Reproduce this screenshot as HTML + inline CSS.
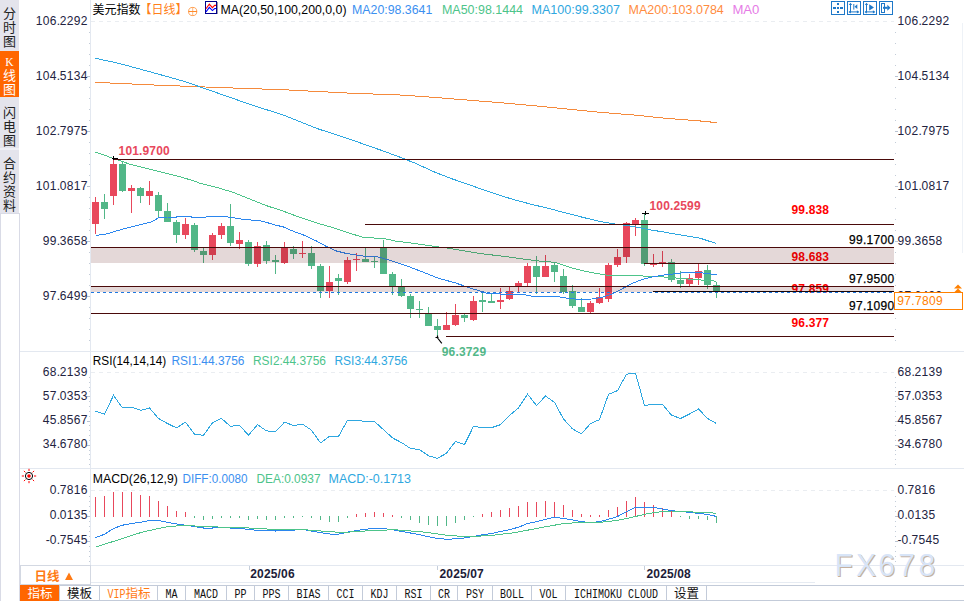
<!DOCTYPE html><html><head><meta charset="utf-8"><title>美元指数 日线</title>
<style>html,body{margin:0;padding:0;background:#fff;overflow:hidden}body{width:964px;height:601px;position:relative;font-family:"Liberation Sans","Noto Sans CJK SC",sans-serif}svg{position:absolute;left:0;top:0;display:block}text{font-family:"Liberation Sans","Noto Sans CJK SC",sans-serif}.ax{font-size:12px;fill:#23233f}.ls{letter-spacing:.33px}.b.ls{letter-spacing:.15px}.cj text{font-family:"Liberation Serif","Noto Sans CJK SC",sans-serif}.mono text{font-family:"Liberation Mono","Noto Serif CJK SC",monospace}.b{font-weight:bold}.cj text.mn{font-family:"Liberation Mono",monospace}</style></head><body>
<svg width="964" height="601" viewBox="0 0 964 601">
<rect width="964" height="601" fill="#fff"/>
<g shape-rendering="crispEdges">
<rect x="0" y="0" width="19" height="213" fill="#e4e4ec"/>
<rect x="0" y="51" width="19" height="46" fill="#ff6600"/>
<rect x="0" y="148" width="19" height="2" fill="#f0f0f6"/>
<rect x="0" y="213" width="1" height="388" fill="#d9dbe6"/>
<rect x="19" y="213" width="1" height="388" fill="#d9dbe6"/>
<rect x="0" y="213" width="20" height="1" fill="#d9dbe6"/>
<rect x="90" y="0" width="1" height="565" fill="#e3e8f0"/>
<rect x="962" y="23" width="1" height="230" fill="#eef2f7"/>
<rect x="20" y="351" width="944" height="1" fill="#e3e8f0"/>
<rect x="20" y="468" width="944" height="1" fill="#e3e8f0"/>
<rect x="20" y="565" width="944" height="1" fill="#e3e8f0"/>
<rect x="90" y="582" width="725" height="1" fill="#e6ebf2"/>
</g>
<line x1="91" y1="21.5" x2="894" y2="21.5" stroke="#eaedf1" stroke-width="1" stroke-dasharray="4 4"/>
<line x1="91" y1="372.5" x2="894" y2="372.5" stroke="#eaedf1" stroke-width="1" stroke-dasharray="4 4"/>
<line x1="91" y1="490.5" x2="894" y2="490.5" stroke="#eaedf1" stroke-width="1" stroke-dasharray="4 4"/>
<g shape-rendering="crispEdges">
<rect x="89" y="32" width="1" height="1" fill="#c3ccd8"/><rect x="895" y="32" width="1" height="1" fill="#c3ccd8"/><rect x="89" y="43" width="1" height="1" fill="#c3ccd8"/><rect x="895" y="43" width="1" height="1" fill="#c3ccd8"/><rect x="89" y="54" width="1" height="1" fill="#c3ccd8"/><rect x="895" y="54" width="1" height="1" fill="#c3ccd8"/><rect x="89" y="65" width="1" height="1" fill="#c3ccd8"/><rect x="895" y="65" width="1" height="1" fill="#c3ccd8"/><rect x="87" y="76" width="3" height="1" fill="#b9c3d2"/><rect x="895" y="76" width="3" height="1" fill="#b9c3d2"/><rect x="89" y="87" width="1" height="1" fill="#c3ccd8"/><rect x="895" y="87" width="1" height="1" fill="#c3ccd8"/><rect x="89" y="98" width="1" height="1" fill="#c3ccd8"/><rect x="895" y="98" width="1" height="1" fill="#c3ccd8"/><rect x="89" y="109" width="1" height="1" fill="#c3ccd8"/><rect x="895" y="109" width="1" height="1" fill="#c3ccd8"/><rect x="89" y="120" width="1" height="1" fill="#c3ccd8"/><rect x="895" y="120" width="1" height="1" fill="#c3ccd8"/><rect x="87" y="131" width="3" height="1" fill="#b9c3d2"/><rect x="895" y="131" width="3" height="1" fill="#b9c3d2"/><rect x="89" y="142" width="1" height="1" fill="#c3ccd8"/><rect x="895" y="142" width="1" height="1" fill="#c3ccd8"/><rect x="89" y="153" width="1" height="1" fill="#c3ccd8"/><rect x="895" y="153" width="1" height="1" fill="#c3ccd8"/><rect x="89" y="164" width="1" height="1" fill="#c3ccd8"/><rect x="895" y="164" width="1" height="1" fill="#c3ccd8"/><rect x="89" y="175" width="1" height="1" fill="#c3ccd8"/><rect x="895" y="175" width="1" height="1" fill="#c3ccd8"/><rect x="87" y="186" width="3" height="1" fill="#b9c3d2"/><rect x="895" y="186" width="3" height="1" fill="#b9c3d2"/><rect x="89" y="197" width="1" height="1" fill="#c3ccd8"/><rect x="895" y="197" width="1" height="1" fill="#c3ccd8"/><rect x="89" y="208" width="1" height="1" fill="#c3ccd8"/><rect x="895" y="208" width="1" height="1" fill="#c3ccd8"/><rect x="89" y="219" width="1" height="1" fill="#c3ccd8"/><rect x="895" y="219" width="1" height="1" fill="#c3ccd8"/><rect x="89" y="230" width="1" height="1" fill="#c3ccd8"/><rect x="895" y="230" width="1" height="1" fill="#c3ccd8"/><rect x="87" y="241" width="3" height="1" fill="#b9c3d2"/><rect x="895" y="241" width="3" height="1" fill="#b9c3d2"/><rect x="89" y="252" width="1" height="1" fill="#c3ccd8"/><rect x="895" y="252" width="1" height="1" fill="#c3ccd8"/><rect x="89" y="263" width="1" height="1" fill="#c3ccd8"/><rect x="895" y="263" width="1" height="1" fill="#c3ccd8"/><rect x="89" y="274" width="1" height="1" fill="#c3ccd8"/><rect x="895" y="274" width="1" height="1" fill="#c3ccd8"/><rect x="89" y="285" width="1" height="1" fill="#c3ccd8"/><rect x="895" y="285" width="1" height="1" fill="#c3ccd8"/><rect x="87" y="296" width="3" height="1" fill="#b9c3d2"/><rect x="895" y="296" width="3" height="1" fill="#b9c3d2"/><rect x="89" y="307" width="1" height="1" fill="#c3ccd8"/><rect x="895" y="307" width="1" height="1" fill="#c3ccd8"/><rect x="89" y="318" width="1" height="1" fill="#c3ccd8"/><rect x="895" y="318" width="1" height="1" fill="#c3ccd8"/><rect x="89" y="329" width="1" height="1" fill="#c3ccd8"/><rect x="895" y="329" width="1" height="1" fill="#c3ccd8"/><rect x="89" y="340" width="1" height="1" fill="#c3ccd8"/><rect x="895" y="340" width="1" height="1" fill="#c3ccd8"/>
<rect x="89" y="377" width="1" height="1" fill="#c3ccd8"/><rect x="895" y="377" width="1" height="1" fill="#c3ccd8"/><rect x="89" y="382" width="1" height="1" fill="#c3ccd8"/><rect x="895" y="382" width="1" height="1" fill="#c3ccd8"/><rect x="89" y="387" width="1" height="1" fill="#c3ccd8"/><rect x="895" y="387" width="1" height="1" fill="#c3ccd8"/><rect x="89" y="391" width="1" height="1" fill="#c3ccd8"/><rect x="895" y="391" width="1" height="1" fill="#c3ccd8"/><rect x="87" y="396" width="3" height="1" fill="#b9c3d2"/><rect x="895" y="396" width="3" height="1" fill="#b9c3d2"/><rect x="89" y="401" width="1" height="1" fill="#c3ccd8"/><rect x="895" y="401" width="1" height="1" fill="#c3ccd8"/><rect x="89" y="406" width="1" height="1" fill="#c3ccd8"/><rect x="895" y="406" width="1" height="1" fill="#c3ccd8"/><rect x="89" y="411" width="1" height="1" fill="#c3ccd8"/><rect x="895" y="411" width="1" height="1" fill="#c3ccd8"/><rect x="89" y="416" width="1" height="1" fill="#c3ccd8"/><rect x="895" y="416" width="1" height="1" fill="#c3ccd8"/><rect x="87" y="421" width="3" height="1" fill="#b9c3d2"/><rect x="895" y="421" width="3" height="1" fill="#b9c3d2"/><rect x="89" y="425" width="1" height="1" fill="#c3ccd8"/><rect x="895" y="425" width="1" height="1" fill="#c3ccd8"/><rect x="89" y="430" width="1" height="1" fill="#c3ccd8"/><rect x="895" y="430" width="1" height="1" fill="#c3ccd8"/><rect x="89" y="435" width="1" height="1" fill="#c3ccd8"/><rect x="895" y="435" width="1" height="1" fill="#c3ccd8"/><rect x="89" y="440" width="1" height="1" fill="#c3ccd8"/><rect x="895" y="440" width="1" height="1" fill="#c3ccd8"/><rect x="87" y="445" width="3" height="1" fill="#b9c3d2"/><rect x="895" y="445" width="3" height="1" fill="#b9c3d2"/><rect x="89" y="450" width="1" height="1" fill="#c3ccd8"/><rect x="895" y="450" width="1" height="1" fill="#c3ccd8"/><rect x="89" y="454" width="1" height="1" fill="#c3ccd8"/><rect x="895" y="454" width="1" height="1" fill="#c3ccd8"/><rect x="89" y="459" width="1" height="1" fill="#c3ccd8"/><rect x="895" y="459" width="1" height="1" fill="#c3ccd8"/><rect x="89" y="464" width="1" height="1" fill="#c3ccd8"/><rect x="895" y="464" width="1" height="1" fill="#c3ccd8"/>
<rect x="89" y="496" width="1" height="1" fill="#c3ccd8"/><rect x="895" y="496" width="1" height="1" fill="#c3ccd8"/><rect x="89" y="501" width="1" height="1" fill="#c3ccd8"/><rect x="895" y="501" width="1" height="1" fill="#c3ccd8"/><rect x="89" y="506" width="1" height="1" fill="#c3ccd8"/><rect x="895" y="506" width="1" height="1" fill="#c3ccd8"/><rect x="89" y="511" width="1" height="1" fill="#c3ccd8"/><rect x="895" y="511" width="1" height="1" fill="#c3ccd8"/><rect x="87" y="516" width="3" height="1" fill="#b9c3d2"/><rect x="895" y="516" width="3" height="1" fill="#b9c3d2"/><rect x="89" y="521" width="1" height="1" fill="#c3ccd8"/><rect x="895" y="521" width="1" height="1" fill="#c3ccd8"/><rect x="89" y="526" width="1" height="1" fill="#c3ccd8"/><rect x="895" y="526" width="1" height="1" fill="#c3ccd8"/><rect x="89" y="531" width="1" height="1" fill="#c3ccd8"/><rect x="895" y="531" width="1" height="1" fill="#c3ccd8"/><rect x="89" y="536" width="1" height="1" fill="#c3ccd8"/><rect x="895" y="536" width="1" height="1" fill="#c3ccd8"/><rect x="87" y="541" width="3" height="1" fill="#b9c3d2"/><rect x="895" y="541" width="3" height="1" fill="#b9c3d2"/><rect x="89" y="546" width="1" height="1" fill="#c3ccd8"/><rect x="895" y="546" width="1" height="1" fill="#c3ccd8"/><rect x="89" y="551" width="1" height="1" fill="#c3ccd8"/><rect x="895" y="551" width="1" height="1" fill="#c3ccd8"/><rect x="89" y="556" width="1" height="1" fill="#c3ccd8"/><rect x="895" y="556" width="1" height="1" fill="#c3ccd8"/><rect x="89" y="561" width="1" height="1" fill="#c3ccd8"/><rect x="895" y="561" width="1" height="1" fill="#c3ccd8"/>
</g>
<g shape-rendering="crispEdges">
<rect x="95" y="197" width="1" height="37" fill="#e8485c"/>
<rect x="92" y="202" width="7" height="22" fill="#e8485c"/>
<rect x="104" y="194" width="1" height="25" fill="#52b788"/>
<rect x="101" y="202" width="7" height="7" fill="#52b788"/>
<rect x="113" y="158" width="1" height="47" fill="#e8485c"/>
<rect x="110" y="164" width="7" height="32" fill="#e8485c"/>
<rect x="122" y="162" width="1" height="30" fill="#52b788"/>
<rect x="119" y="164" width="7" height="27" fill="#52b788"/>
<rect x="131" y="185" width="1" height="28" fill="#e8485c"/>
<rect x="128" y="188" width="7" height="3" fill="#e8485c"/>
<rect x="140" y="187" width="1" height="16" fill="#52b788"/>
<rect x="137" y="188" width="7" height="8" fill="#52b788"/>
<rect x="149" y="181" width="1" height="24" fill="#e8485c"/>
<rect x="146" y="191" width="7" height="5" fill="#e8485c"/>
<rect x="158" y="192" width="1" height="26" fill="#52b788"/>
<rect x="155" y="195" width="7" height="16" fill="#52b788"/>
<rect x="167" y="203" width="1" height="19" fill="#52b788"/>
<rect x="164" y="211" width="7" height="11" fill="#52b788"/>
<rect x="176" y="220" width="1" height="23" fill="#52b788"/>
<rect x="173" y="222" width="7" height="13" fill="#52b788"/>
<rect x="185" y="218" width="1" height="21" fill="#e8485c"/>
<rect x="182" y="224" width="7" height="11" fill="#e8485c"/>
<rect x="194" y="223" width="1" height="29" fill="#52b788"/>
<rect x="191" y="225" width="7" height="25" fill="#52b788"/>
<rect x="203" y="248" width="1" height="15" fill="#52b788"/>
<rect x="200" y="251" width="7" height="4" fill="#52b788"/>
<rect x="212" y="233" width="1" height="27" fill="#e8485c"/>
<rect x="209" y="235" width="7" height="20" fill="#e8485c"/>
<rect x="221" y="223" width="1" height="16" fill="#e8485c"/>
<rect x="218" y="226" width="7" height="9" fill="#e8485c"/>
<rect x="230" y="204" width="1" height="42" fill="#52b788"/>
<rect x="227" y="226" width="7" height="17" fill="#52b788"/>
<rect x="239" y="232" width="1" height="17" fill="#e8485c"/>
<rect x="236" y="240" width="7" height="4" fill="#e8485c"/>
<rect x="248" y="240" width="1" height="26" fill="#52b788"/>
<rect x="245" y="242" width="7" height="22" fill="#52b788"/>
<rect x="257" y="242" width="1" height="25" fill="#e8485c"/>
<rect x="254" y="246" width="7" height="18" fill="#e8485c"/>
<rect x="266" y="241" width="1" height="23" fill="#52b788"/>
<rect x="263" y="245" width="7" height="16" fill="#52b788"/>
<rect x="275" y="255" width="1" height="19" fill="#52b788"/>
<rect x="272" y="260" width="7" height="2" fill="#52b788"/>
<rect x="284" y="242" width="1" height="22" fill="#e8485c"/>
<rect x="281" y="247" width="7" height="16" fill="#e8485c"/>
<rect x="293" y="246" width="1" height="13" fill="#52b788"/>
<rect x="290" y="249" width="7" height="5" fill="#52b788"/>
<rect x="302" y="241" width="1" height="17" fill="#e8485c"/>
<rect x="299" y="253" width="7" height="1" fill="#e8485c"/>
<rect x="311" y="246" width="1" height="23" fill="#52b788"/>
<rect x="308" y="253" width="7" height="13" fill="#52b788"/>
<rect x="320" y="264" width="1" height="34" fill="#52b788"/>
<rect x="317" y="266" width="7" height="25" fill="#52b788"/>
<rect x="329" y="266" width="1" height="32" fill="#e8485c"/>
<rect x="326" y="282" width="7" height="9" fill="#e8485c"/>
<rect x="338" y="274" width="1" height="21" fill="#52b788"/>
<rect x="335" y="278" width="7" height="3" fill="#52b788"/>
<rect x="347" y="257" width="1" height="27" fill="#e8485c"/>
<rect x="344" y="260" width="7" height="22" fill="#e8485c"/>
<rect x="356" y="253" width="1" height="18" fill="#e8485c"/>
<rect x="353" y="259" width="7" height="1" fill="#e8485c"/>
<rect x="365" y="248" width="1" height="14" fill="#52b788"/>
<rect x="362" y="259" width="7" height="3" fill="#52b788"/>
<rect x="374" y="257" width="1" height="11" fill="#52b788"/>
<rect x="371" y="261" width="7" height="1" fill="#52b788"/>
<rect x="383" y="240" width="1" height="34" fill="#52b788"/>
<rect x="380" y="248" width="7" height="26" fill="#52b788"/>
<rect x="392" y="272" width="1" height="23" fill="#52b788"/>
<rect x="389" y="274" width="7" height="12" fill="#52b788"/>
<rect x="401" y="279" width="1" height="18" fill="#52b788"/>
<rect x="398" y="287" width="7" height="9" fill="#52b788"/>
<rect x="410" y="294" width="1" height="24" fill="#52b788"/>
<rect x="407" y="296" width="7" height="13" fill="#52b788"/>
<rect x="419" y="301" width="1" height="17" fill="#52b788"/>
<rect x="416" y="309" width="7" height="1" fill="#52b788"/>
<rect x="428" y="307" width="1" height="19" fill="#52b788"/>
<rect x="425" y="314" width="7" height="12" fill="#52b788"/>
<rect x="437" y="319" width="1" height="18" fill="#52b788"/>
<rect x="434" y="326" width="7" height="4" fill="#52b788"/>
<rect x="446" y="312" width="1" height="18" fill="#e8485c"/>
<rect x="443" y="325" width="7" height="5" fill="#e8485c"/>
<rect x="455" y="304" width="1" height="22" fill="#e8485c"/>
<rect x="452" y="315" width="7" height="10" fill="#e8485c"/>
<rect x="464" y="314" width="1" height="8" fill="#52b788"/>
<rect x="461" y="315" width="7" height="3" fill="#52b788"/>
<rect x="473" y="296" width="1" height="25" fill="#e8485c"/>
<rect x="470" y="301" width="7" height="19" fill="#e8485c"/>
<rect x="482" y="291" width="1" height="21" fill="#52b788"/>
<rect x="479" y="300" width="7" height="2" fill="#52b788"/>
<rect x="491" y="293" width="1" height="10" fill="#52b788"/>
<rect x="488" y="301" width="7" height="2" fill="#52b788"/>
<rect x="500" y="288" width="1" height="21" fill="#e8485c"/>
<rect x="497" y="300" width="7" height="2" fill="#e8485c"/>
<rect x="509" y="286" width="1" height="14" fill="#e8485c"/>
<rect x="506" y="291" width="7" height="8" fill="#e8485c"/>
<rect x="518" y="281" width="1" height="11" fill="#e8485c"/>
<rect x="515" y="283" width="7" height="4" fill="#e8485c"/>
<rect x="527" y="263" width="1" height="23" fill="#e8485c"/>
<rect x="524" y="266" width="7" height="17" fill="#e8485c"/>
<rect x="536" y="256" width="1" height="38" fill="#52b788"/>
<rect x="533" y="266" width="7" height="11" fill="#52b788"/>
<rect x="545" y="255" width="1" height="22" fill="#e8485c"/>
<rect x="542" y="266" width="7" height="11" fill="#e8485c"/>
<rect x="554" y="262" width="1" height="20" fill="#52b788"/>
<rect x="551" y="265" width="7" height="7" fill="#52b788"/>
<rect x="563" y="269" width="1" height="25" fill="#52b788"/>
<rect x="560" y="276" width="7" height="16" fill="#52b788"/>
<rect x="572" y="285" width="1" height="23" fill="#52b788"/>
<rect x="569" y="291" width="7" height="15" fill="#52b788"/>
<rect x="581" y="298" width="1" height="14" fill="#52b788"/>
<rect x="578" y="307" width="7" height="5" fill="#52b788"/>
<rect x="590" y="301" width="1" height="12" fill="#e8485c"/>
<rect x="587" y="303" width="7" height="9" fill="#e8485c"/>
<rect x="599" y="288" width="1" height="16" fill="#e8485c"/>
<rect x="596" y="297" width="7" height="6" fill="#e8485c"/>
<rect x="608" y="263" width="1" height="39" fill="#e8485c"/>
<rect x="605" y="265" width="7" height="34" fill="#e8485c"/>
<rect x="617" y="249" width="1" height="18" fill="#e8485c"/>
<rect x="614" y="257" width="7" height="8" fill="#e8485c"/>
<rect x="626" y="222" width="1" height="41" fill="#e8485c"/>
<rect x="623" y="223" width="7" height="34" fill="#e8485c"/>
<rect x="635" y="218" width="1" height="18" fill="#e8485c"/>
<rect x="632" y="220" width="7" height="5" fill="#e8485c"/>
<rect x="644" y="213" width="1" height="53" fill="#52b788"/>
<rect x="641" y="220" width="7" height="44" fill="#52b788"/>
<rect x="653" y="254" width="1" height="13" fill="#e8485c"/>
<rect x="650" y="264" width="7" height="1" fill="#e8485c"/>
<rect x="662" y="251" width="1" height="16" fill="#e8485c"/>
<rect x="659" y="262" width="7" height="1" fill="#e8485c"/>
<rect x="671" y="259" width="1" height="23" fill="#52b788"/>
<rect x="668" y="262" width="7" height="18" fill="#52b788"/>
<rect x="680" y="271" width="1" height="17" fill="#52b788"/>
<rect x="677" y="280" width="7" height="4" fill="#52b788"/>
<rect x="689" y="274" width="1" height="12" fill="#e8485c"/>
<rect x="686" y="278" width="7" height="6" fill="#e8485c"/>
<rect x="698" y="264" width="1" height="21" fill="#e8485c"/>
<rect x="695" y="271" width="7" height="7" fill="#e8485c"/>
<rect x="707" y="265" width="1" height="24" fill="#52b788"/>
<rect x="704" y="270" width="7" height="15" fill="#52b788"/>
<rect x="716" y="282" width="1" height="16" fill="#52b788"/>
<rect x="713" y="285" width="7" height="7" fill="#52b788"/>
</g>
<g fill="none" stroke-width="1" stroke-linejoin="round" shape-rendering="crispEdges">
<polyline stroke="#f58a3c" points="95.0,82.3 151.5,84.9 218.0,87.5 284.6,89.8 351.1,93.2 400.0,95.0 433.3,97.3 466.5,100.0 499.8,102.6 533.0,105.6 566.3,108.9 599.6,112.3 632.9,114.9 666.1,118.3 699.4,120.9 716.5,122.6"/>
<polyline stroke="#2ea7e0" points="95.0,58.2 118.3,63.2 151.5,72.2 184.8,81.5 218.0,93.2 251.3,104.8 284.6,115.5 317.9,128.8 351.1,139.7 384.4,151.4 400.0,157.2 416.6,163.8 433.3,171.5 449.9,178.1 466.5,183.8 483.2,189.8 499.8,195.4 516.4,200.4 533.0,204.7 549.7,208.7 566.3,213.1 583.0,217.4 599.6,221.4 612.9,223.7 632.9,226.4 649.5,229.7 666.1,232.4 682.8,235.4 699.4,238.0 708.4,241.0 716.5,243.4"/>
<polyline stroke="#4dc48a" points="95.5,152.0 113.0,158.3 129.6,164.1 146.2,168.3 162.8,172.5 179.5,176.6 196.1,181.6 200.0,183.3 216.6,187.4 233.3,192.4 249.9,199.1 266.5,205.7 283.2,211.1 299.8,217.4 316.4,222.9 333.1,227.7 349.7,233.2 363.6,237.5 383.5,238.5 396.8,241.3 413.5,243.3 430.1,245.8 446.7,248.0 463.4,250.8 482.0,253.8 502.0,256.1 524.6,259.2 536.4,260.8 555.2,262.4 572.5,268.3 590.5,272.4 608.4,275.4 626.4,275.2 640.4,275.7 650.7,276.8 661.1,276.5 666.3,277.5 675.6,278.0 686.0,278.8 694.3,279.6 702.6,280.1 712.0,280.9 716.5,281.1"/>
<polyline stroke="#2b86ee" points="95.5,235.3 104.6,234.5 121.3,229.5 137.9,225.3 151.2,221.9 158.5,217.9 167.5,217.0 176.5,217.0 185.5,216.2 194.4,217.4 203.4,217.4 208.3,216.6 225.0,216.6 233.3,217.7 246.6,219.9 258.2,220.2 266.5,222.4 274.8,224.9 283.2,226.9 293.1,231.2 303.1,234.8 316.4,241.0 326.4,246.5 336.4,251.0 346.4,253.5 360.0,255.6 365.6,256.3 376.9,256.6 388.5,259.9 405.2,265.3 421.8,271.6 438.4,278.2 455.0,282.8 471.7,288.5 482.0,291.5 488.5,293.8 505.1,294.1 522.0,294.2 532.0,296.2 556.9,296.5 568.5,298.5 581.5,299.5 591.8,299.0 601.8,297.4 611.8,294.0 626.4,286.6 630.0,284.4 640.4,280.1 650.7,277.2 661.1,275.4 675.6,273.7 686.0,272.3 694.3,272.1 702.6,273.0 712.0,274.1 716.5,274.6"/>
</g>
<g class="b ls" font-size="12" fill="#ff0000">
<text x="791.5" y="213.7">99.838</text>
<text x="791.5" y="260.5">98.683</text>
<text x="791.5" y="293.4">97.859</text>
<text x="791.5" y="326.7">96.377</text>
</g>
<g shape-rendering="crispEdges">
<rect x="91" y="248" width="803" height="15" fill="rgba(90,10,10,0.16)"/>
<rect x="91" y="287" width="803" height="5" fill="rgba(90,10,10,0.16)"/>
<rect x="113" y="159" width="781" height="1" fill="#4a0a0a"/>
<rect x="365" y="224" width="529" height="1" fill="#4a0a0a"/>
<rect x="91" y="247" width="803" height="1" fill="#4a0a0a"/>
<rect x="644" y="263" width="250" height="1" fill="#4a0a0a"/>
<rect x="91" y="286" width="803" height="1" fill="#4a0a0a"/>
<rect x="653" y="291" width="241" height="1" fill="#1a0505"/>
<rect x="91" y="313" width="803" height="1" fill="#4a0a0a"/>
<rect x="446" y="336" width="448" height="1" fill="#4a0a0a"/>
</g>
<line x1="91" y1="292.5" x2="894" y2="292.5" stroke="#1e78e0" stroke-width="1" stroke-dasharray="3 3"/>
<g stroke="#000" stroke-width="1" shape-rendering="crispEdges"><path d="M113.5 156v4M112 158.5h6M645.5 211v4M642 213.5h7"/></g>
<path d="M435.5 337.5h3M437.5 335.5v3M438 338.5l3.8 4.8" stroke="#000" stroke-width="1.2" fill="none"/>
<text class="b ls" font-size="12" fill="#e8485c" x="118.6" y="155">101.9700</text>
<text class="b ls" font-size="12" fill="#e8485c" x="649.5" y="210">100.2599</text>
<text class="b ls" font-size="12" fill="#52b788" x="441.8" y="356">96.3729</text>
<g class="ls" font-size="12" fill="#000" stroke="#000" stroke-width=".25" text-anchor="end">
<text x="894.6" y="243.6">99.1700</text>
<text x="894.6" y="282.5">97.9500</text>
<text x="894.6" y="309.7">97.1090</text>
</g>
<g class="ax">
<text x="35.7 42.7 49.7 56.7 59.7 66.7 73.7 80.7" y="25">106.2292</text>
<text x="897.6 904.6 911.6 918.6 921.6 928.6 935.6 942.6" y="25">106.2292</text>
<text x="35.7 42.7 49.7 56.7 59.7 66.7 73.7 80.7" y="80">104.5134</text>
<text x="897.6 904.6 911.6 918.6 921.6 928.6 935.6 942.6" y="80">104.5134</text>
<text x="35.7 42.7 49.7 56.7 59.7 66.7 73.7 80.7" y="135">102.7975</text>
<text x="897.6 904.6 911.6 918.6 921.6 928.6 935.6 942.6" y="135">102.7975</text>
<text x="35.7 42.7 49.7 56.7 59.7 66.7 73.7 80.7" y="190">101.0817</text>
<text x="897.6 904.6 911.6 918.6 921.6 928.6 935.6 942.6" y="190">101.0817</text>
<text x="42.7 49.7 56.7 59.7 66.7 73.7 80.7" y="245">99.3658</text>
<text x="897.6 904.6 911.6 914.6 921.6 928.6 935.6" y="245">99.3658</text>
<text x="42.7 49.7 56.7 59.7 66.7 73.7 80.7" y="300">97.6499</text>
<text x="897.6 904.6 911.6 914.6 921.6 928.6 935.6" y="300">97.6499</text>
<text x="42.7 49.7 56.7 59.7 66.7 73.7 80.7" y="376">68.2139</text>
<text x="897.6 904.6 911.6 914.6 921.6 928.6 935.6" y="376">68.2139</text>
<text x="42.7 49.7 56.7 59.7 66.7 73.7 80.7" y="400">57.0353</text>
<text x="897.6 904.6 911.6 914.6 921.6 928.6 935.6" y="400">57.0353</text>
<text x="42.7 49.7 56.7 59.7 66.7 73.7 80.7" y="424">45.8567</text>
<text x="897.6 904.6 911.6 914.6 921.6 928.6 935.6" y="424">45.8567</text>
<text x="42.7 49.7 56.7 59.7 66.7 73.7 80.7" y="448">34.6780</text>
<text x="897.6 904.6 911.6 914.6 921.6 928.6 935.6" y="448">34.6780</text>
<text x="49.7 56.7 59.7 66.7 73.7 80.7" y="494">0.7816</text>
<text x="897.6 904.6 907.6 914.6 921.6 928.6" y="494">0.7816</text>
<text x="49.7 56.7 59.7 66.7 73.7 80.7" y="519">0.0135</text>
<text x="897.6 904.6 907.6 914.6 921.6 928.6" y="519">0.0135</text>
<text x="45.7 49.7 56.7 59.7 66.7 73.7 80.7" y="544">-0.7545</text>
<text x="897.6 901.6 908.6 911.6 918.6 925.6 932.6" y="544">-0.7545</text>
</g>
<g shape-rendering="crispEdges"><rect x="894.5" y="292.5" width="68" height="17" fill="#fff" stroke="#ff8000" stroke-width="1"/></g>
<text class="ls" x="897.3" y="305" font-size="12" fill="#ff8000">97.7809</text>
<path d="M954 288.5l4-4 4 4zM954 292.5l4-4 4 4z" fill="#ff8000"/>
<polyline fill="none" stroke="#2ea7e0" stroke-width="1" shape-rendering="crispEdges" points="95.5,411.0 104.5,414.2 113.5,395.3 122.5,408.0 131.5,407.3 140.5,410.3 149.5,408.0 158.5,418.5 167.5,423.5 176.5,427.9 185.5,422.2 194.5,434.2 203.5,435.4 212.5,422.7 221.5,418.5 230.5,426.4 239.5,425.2 248.5,435.2 257.5,424.7 266.5,430.9 275.5,431.4 284.5,422.2 293.5,425.5 302.5,424.2 311.5,430.2 320.5,442.9 329.5,436.4 338.5,436.4 347.5,420.2 356.5,420.2 365.5,421.5 374.5,421.5 383.5,429.7 392.5,437.9 401.5,442.6 410.5,448.4 419.5,449.6 428.5,455.8 437.5,458.3 446.5,453.3 455.5,441.4 464.5,444.6 473.5,426.4 482.5,427.7 491.5,427.7 500.5,424.7 509.5,415.5 518.5,408.0 527.5,394.1 536.5,405.5 545.5,396.1 554.5,402.3 563.5,419.0 572.5,428.9 581.5,433.9 590.5,423.5 599.5,419.7 608.5,394.3 617.5,390.6 626.5,374.2 635.5,373.2 644.5,405.5 653.5,404.3 662.5,404.3 671.5,415.2 680.5,418.5 689.5,414.0 698.5,409.0 707.5,418.5 716.5,423.5"/>
<g shape-rendering="crispEdges">
<rect x="95" y="497" width="1" height="20" fill="#e8485c"/>
<rect x="104" y="496" width="1" height="21" fill="#e8485c"/>
<rect x="113" y="492" width="1" height="25" fill="#e8485c"/>
<rect x="122" y="492" width="1" height="25" fill="#e8485c"/>
<rect x="131" y="492" width="1" height="25" fill="#e8485c"/>
<rect x="140" y="495" width="1" height="22" fill="#e8485c"/>
<rect x="149" y="496" width="1" height="21" fill="#e8485c"/>
<rect x="158" y="501" width="1" height="16" fill="#e8485c"/>
<rect x="167" y="506" width="1" height="11" fill="#e8485c"/>
<rect x="176" y="511" width="1" height="6" fill="#e8485c"/>
<rect x="185" y="512" width="1" height="5" fill="#e8485c"/>
<rect x="194" y="516" width="1" height="2" fill="#52b788"/>
<rect x="203" y="516" width="1" height="4" fill="#52b788"/>
<rect x="212" y="516" width="1" height="3" fill="#52b788"/>
<rect x="221" y="516" width="1" height="2" fill="#52b788"/>
<rect x="230" y="516" width="1" height="2" fill="#52b788"/>
<rect x="239" y="516" width="1" height="2" fill="#52b788"/>
<rect x="248" y="516" width="1" height="4" fill="#52b788"/>
<rect x="257" y="516" width="1" height="3" fill="#52b788"/>
<rect x="266" y="516" width="1" height="4" fill="#52b788"/>
<rect x="275" y="516" width="1" height="4" fill="#52b788"/>
<rect x="284" y="516" width="1" height="2" fill="#52b788"/>
<rect x="293" y="516" width="1" height="2" fill="#52b788"/>
<rect x="302" y="516" width="1" height="1" fill="#52b788"/>
<rect x="311" y="516" width="1" height="2" fill="#52b788"/>
<rect x="320" y="516" width="1" height="4" fill="#52b788"/>
<rect x="329" y="516" width="1" height="6" fill="#52b788"/>
<rect x="338" y="516" width="1" height="6" fill="#52b788"/>
<rect x="347" y="516" width="1" height="2" fill="#52b788"/>
<rect x="356" y="514" width="1" height="3" fill="#e8485c"/>
<rect x="365" y="513" width="1" height="4" fill="#e8485c"/>
<rect x="374" y="512" width="1" height="5" fill="#e8485c"/>
<rect x="383" y="513" width="1" height="4" fill="#e8485c"/>
<rect x="392" y="515" width="1" height="2" fill="#e8485c"/>
<rect x="401" y="516" width="1" height="2" fill="#52b788"/>
<rect x="410" y="516" width="1" height="4" fill="#52b788"/>
<rect x="419" y="516" width="1" height="7" fill="#52b788"/>
<rect x="428" y="516" width="1" height="9" fill="#52b788"/>
<rect x="437" y="516" width="1" height="10" fill="#52b788"/>
<rect x="446" y="516" width="1" height="10" fill="#52b788"/>
<rect x="455" y="516" width="1" height="7" fill="#52b788"/>
<rect x="464" y="516" width="1" height="4" fill="#52b788"/>
<rect x="473" y="516" width="1" height="1" fill="#52b788"/>
<rect x="482" y="514" width="1" height="3" fill="#e8485c"/>
<rect x="491" y="512" width="1" height="5" fill="#e8485c"/>
<rect x="500" y="510" width="1" height="7" fill="#e8485c"/>
<rect x="509" y="508" width="1" height="9" fill="#e8485c"/>
<rect x="518" y="506" width="1" height="11" fill="#e8485c"/>
<rect x="527" y="502" width="1" height="15" fill="#e8485c"/>
<rect x="536" y="502" width="1" height="15" fill="#e8485c"/>
<rect x="545" y="501" width="1" height="16" fill="#e8485c"/>
<rect x="554" y="502" width="1" height="15" fill="#e8485c"/>
<rect x="563" y="505" width="1" height="12" fill="#e8485c"/>
<rect x="572" y="510" width="1" height="7" fill="#e8485c"/>
<rect x="581" y="514" width="1" height="3" fill="#e8485c"/>
<rect x="590" y="515" width="1" height="2" fill="#e8485c"/>
<rect x="599" y="515" width="1" height="2" fill="#e8485c"/>
<rect x="608" y="510" width="1" height="7" fill="#e8485c"/>
<rect x="617" y="507" width="1" height="10" fill="#e8485c"/>
<rect x="626" y="501" width="1" height="16" fill="#e8485c"/>
<rect x="635" y="497" width="1" height="20" fill="#e8485c"/>
<rect x="644" y="502" width="1" height="15" fill="#e8485c"/>
<rect x="653" y="505" width="1" height="12" fill="#e8485c"/>
<rect x="662" y="508" width="1" height="9" fill="#e8485c"/>
<rect x="671" y="511" width="1" height="6" fill="#e8485c"/>
<rect x="680" y="516" width="1" height="1" fill="#52b788"/>
<rect x="689" y="516" width="1" height="3" fill="#52b788"/>
<rect x="698" y="516" width="1" height="3" fill="#52b788"/>
<rect x="707" y="516" width="1" height="4" fill="#52b788"/>
<rect x="716" y="516" width="1" height="7" fill="#52b788"/>
</g>
<polyline fill="none" stroke="#2b86ee" stroke-width="1" shape-rendering="crispEdges" points="95.5,537.7 104.5,534.2 113.5,528.5 122.5,525.2 131.5,523.5 140.5,522.3 149.5,520.5 158.5,520.5 167.5,522.3 176.5,524.0 185.5,525.2 194.5,526.5 203.5,528.0 212.5,528.0 221.5,527.2 230.5,528.0 239.5,528.0 248.5,529.7 257.5,530.2 266.5,530.2 275.5,531.0 284.5,530.2 293.5,530.2 302.5,529.2 311.5,531.0 320.5,532.7 329.5,534.0 338.5,534.2 347.5,532.2 356.5,530.5 365.5,529.2 374.5,528.5 383.5,528.5 392.5,529.7 401.5,531.5 410.5,533.0 419.5,534.7 428.5,536.7 437.5,538.4 446.5,539.2 455.5,538.9 464.5,538.0 473.5,536.4 482.5,534.7 491.5,533.5 500.5,531.5 509.5,529.7 518.5,527.2 527.5,523.5 536.5,521.8 545.5,519.3 554.5,517.3 563.5,518.5 572.5,519.8 581.5,521.8 590.5,522.3 599.5,521.8 608.5,519.3 617.5,516.5 626.5,511.6 635.5,507.3 644.5,507.3 653.5,507.3 662.5,509.1 671.5,510.6 680.5,511.6 689.5,512.3 698.5,513.5 707.5,514.3 716.5,516.5"/>
<polyline fill="none" stroke="#4dc48a" stroke-width="1" shape-rendering="crispEdges" points="95.5,547.2 104.5,544.2 113.5,541.4 122.5,538.4 131.5,535.5 140.5,532.7 149.5,530.5 158.5,528.5 167.5,526.7 176.5,526.0 185.5,525.5 194.5,526.0 203.5,526.5 212.5,526.7 221.5,527.2 230.5,527.2 239.5,527.2 248.5,528.0 257.5,528.5 266.5,529.0 275.5,529.2 284.5,529.2 293.5,529.2 302.5,529.2 311.5,530.5 320.5,531.0 329.5,531.7 338.5,532.2 347.5,532.2 356.5,531.5 365.5,531.0 374.5,530.2 383.5,530.2 392.5,529.7 401.5,530.2 410.5,531.0 419.5,531.5 428.5,532.7 437.5,534.0 446.5,535.2 455.5,535.9 464.5,536.4 473.5,536.4 482.5,535.9 491.5,535.5 500.5,534.2 509.5,533.5 518.5,531.9 527.5,530.2 536.5,528.5 545.5,526.7 554.5,525.2 563.5,523.5 572.5,523.0 581.5,522.3 590.5,522.3 599.5,522.3 608.5,521.5 617.5,520.3 626.5,518.5 635.5,516.5 644.5,514.3 653.5,512.8 662.5,511.6 671.5,511.0 680.5,511.0 689.5,511.8 698.5,512.3 707.5,512.3 716.5,513.5"/>
<g transform="translate(29,476)"><circle r="3.6" fill="#fff" stroke="#000" stroke-width="1"/><circle r="1.8" fill="#ff0000"/><g stroke="#ff0000" stroke-width="1"><path d="M0-5v-2.2M0 5v2.2M-5 0h-2.2M5 0h2.2M3.6-3.6l1.5-1.5M-3.6-3.6l-1.5-1.5M3.6 3.6l1.5 1.5M-3.6 3.6l-1.5 1.5"/></g></g>
<g font-size="12.3">
<text x="92.5" y="14" font-size="12" fill="#000" style="font-family:'Liberation Sans','Noto Sans CJK SC',sans-serif">美元指数</text>
<text x="139.5" y="14" font-size="12" fill="#ff7f1a" style="font-family:'Liberation Sans','Noto Sans CJK SC',sans-serif">【日线】</text>
<g stroke="#ff8a2a" fill="none"><circle cx="192.7" cy="11.5" r="4.1" stroke-width="0.8"/><path d="M188.4 11.5h8.6" stroke-width="1"/><path d="M192.7 7.4v8.2" stroke-width="0.6"/></g>
<g shape-rendering="crispEdges"><rect x="217" y="2" width="1" height="12" fill="#9a9aa8"/><rect x="205.5" y="1.5" width="11" height="12" fill="#fff" stroke="#00008b" stroke-width="1"/><rect x="206" y="13" width="11" height="1" fill="#00008b"/></g>
<path d="M206 8.7l3.3-4.6 3.1 3.6 2.3-2.3h1.3" stroke="#ff0000" stroke-width="1.1" fill="none"/><path d="M206 11.8l3.3-4.5 3.1 3.3 2.3-2.1h1.3" stroke="#0000ff" stroke-width="1.1" fill="none"/>
<text x="220.5" y="14" fill="#000" textLength="126" lengthAdjust="spacingAndGlyphs">MA(20,50,100,200,0,0)</text>
<text x="352" y="14" fill="#3b8ff0" textLength="80.3" lengthAdjust="spacingAndGlyphs">MA20:98.3641</text>
<text x="442" y="14" fill="#4dc48a" textLength="81" lengthAdjust="spacingAndGlyphs">MA50:98.1444</text>
<text x="531.5" y="14" fill="#2ea7e0" textLength="88.5" lengthAdjust="spacingAndGlyphs">MA100:99.3307</text>
<text x="628.6" y="14" fill="#ff8c40" textLength="95.2" lengthAdjust="spacingAndGlyphs">MA200:103.0784</text>
<text x="732.4" y="14" fill="#e67be6" textLength="27" lengthAdjust="spacingAndGlyphs">MA0</text>
<text x="92.8" y="364.7" fill="#000" textLength="73.5" lengthAdjust="spacingAndGlyphs">RSI(14,14,14)</text>
<text x="171.5" y="364.7" fill="#3b8ff0" textLength="73" lengthAdjust="spacingAndGlyphs">RSI1:44.3756</text>
<text x="253" y="364.7" fill="#4dc48a" textLength="73" lengthAdjust="spacingAndGlyphs">RSI2:44.3756</text>
<text x="334.5" y="364.7" fill="#2ea7e0" textLength="73" lengthAdjust="spacingAndGlyphs">RSI3:44.3756</text>
<text x="92.8" y="482.7" fill="#000" textLength="85" lengthAdjust="spacingAndGlyphs">MACD(26,12,9)</text>
<text x="182.5" y="482.7" fill="#3b8ff0" textLength="65" lengthAdjust="spacingAndGlyphs">DIFF:0.0080</text>
<text x="256.5" y="482.7" fill="#4dc48a" textLength="64" lengthAdjust="spacingAndGlyphs">DEA:0.0937</text>
<text x="328.5" y="482.7" fill="#2ea7e0" textLength="82.5" lengthAdjust="spacingAndGlyphs">MACD:-0.1713</text>
</g>
<g shape-rendering="crispEdges" fill="none" stroke="#1e78c8" stroke-width="1">
<rect x="831.5" y="1.5" width="13" height="13"/>
<rect x="847.5" y="1.5" width="13" height="13"/>
<rect x="863.5" y="1.5" width="13" height="13"/>
<rect x="879.5" y="1.5" width="13" height="13"/>
</g>
<g fill="#1e78c8" shape-rendering="crispEdges">
<rect x="837" y="3" width="2" height="2"/><rect x="837" y="7" width="2" height="2"/><rect x="837" y="11" width="2" height="2"/><rect x="833" y="7" width="3" height="2"/><rect x="840" y="7" width="3" height="2"/>
</g>
<g fill="#1e78c8">
<rect x="850.0" y="4" width="1" height="8.6"/>
<rect x="849.5" y="11.4" width="9" height="1"/>
<path d="M850.5 2.8l-1.7 2.3h3.4zM859.3 11.9l-2.4-1.6v3.2zM848.5 11.9l2.2-1.5v3z"/>
<rect x="866.0" y="4" width="1" height="8.6"/>
<rect x="865.5" y="11.4" width="9" height="1"/>
<path d="M866.5 2.8l-1.7 2.3h3.4zM875.3 11.9l-2.4-1.6v3.2zM864.5 11.9l2.2-1.5v3z"/>
<rect x="853.3" y="4" width="1" height="5.6"/><path d="M854.5 6.7L857.3 4.3V9.1z"/>
<path d="M869.2 4.2L874 7.4L869.2 10.6z"/>
<rect x="881.5" y="3.5" width="3" height="9" fill="#fff" stroke="#1e78c8" stroke-width="1"/>
<rect x="883" y="6.8" width="4.6" height="2"/><path d="M887.3 4.8L890.5 7.8L887.3 10.8z"/>
</g>
<g class="cj" font-size="13" text-anchor="middle" fill="#222">
<text x="9.5" y="18">分</text>
<text x="9.5" y="32">时</text>
<text x="9.5" y="46">图</text>
<g fill="#fff">
<text x="9.5" y="65.5" font-size="11.5">K</text>
<text x="9.5" y="80">线</text>
<text x="9.5" y="94">图</text>
</g>
<text x="9.5" y="117">闪</text>
<text x="9.5" y="131">电</text>
<text x="9.5" y="145">图</text>
<text x="9.5" y="168">合</text>
<text x="9.5" y="182">约</text>
<text x="9.5" y="196">资</text>
<text x="9.5" y="210">料</text>
</g>
<g shape-rendering="crispEdges" fill="#c5cedb"><rect x="249" y="566" width="1" height="4"/><rect x="437" y="566" width="1" height="4"/><rect x="644" y="566" width="1" height="4"/></g>
<g class="b ls" font-size="12" fill="#1c1c38">
<text x="250.3" y="578">2025/06</text><text x="439.5" y="578">2025/07</text><text x="646.5" y="578">2025/08</text>
</g>
<text transform="translate(1,576.6) scale(1,1.045)" x="834.5 855.9 878.2 898.2 918.5" y="0" font-size="30" fill="#c4b0a0">FX678</text>
<text transform="translate(0,575.6) scale(1,1.045)" x="834.5 855.9 878.2 898.2 918.5" y="0" font-size="30" fill="#d8e5f8">FX678</text>
<g shape-rendering="crispEdges">
<rect x="20.5" y="565.5" width="70" height="19" fill="#fff" stroke="#d3d8e2"/>
<rect x="20" y="585" width="944" height="1" fill="#c3cbd9"/>
<rect x="20" y="600" width="944" height="1" fill="#c3cbd9"/>
<rect x="20" y="585" width="39" height="16" fill="#ff6600"/>
<rect x="59" y="586" width="1" height="14" fill="#c3cbd9"/>
<rect x="99" y="586" width="1" height="14" fill="#c3cbd9"/>
<rect x="157" y="586" width="1" height="14" fill="#c3cbd9"/>
<rect x="185" y="586" width="1" height="14" fill="#c3cbd9"/>
<rect x="226" y="586" width="1" height="14" fill="#c3cbd9"/>
<rect x="254" y="586" width="1" height="14" fill="#c3cbd9"/>
<rect x="288" y="586" width="1" height="14" fill="#c3cbd9"/>
<rect x="328" y="586" width="1" height="14" fill="#c3cbd9"/>
<rect x="362" y="586" width="1" height="14" fill="#c3cbd9"/>
<rect x="396" y="586" width="1" height="14" fill="#c3cbd9"/>
<rect x="430" y="586" width="1" height="14" fill="#c3cbd9"/>
<rect x="457" y="586" width="1" height="14" fill="#c3cbd9"/>
<rect x="492" y="586" width="1" height="14" fill="#c3cbd9"/>
<rect x="531" y="586" width="1" height="14" fill="#c3cbd9"/>
<rect x="565" y="586" width="1" height="14" fill="#c3cbd9"/>
<rect x="666" y="586" width="1" height="14" fill="#c3cbd9"/>
<rect x="706" y="586" width="1" height="14" fill="#c3cbd9"/>
</g>
<text class="b" x="34.5" y="580.5" font-size="12.5" fill="#ff7a14" style="font-family:'Liberation Sans','Noto Sans CJK SC',sans-serif">日线</text>
<path d="M65 580l4-7.5 4 7.5z" fill="#ff7a14"/>
<g class="cj" font-size="12.5">
<text x="40.0" y="597.6" fill="#fff" text-anchor="middle">指标</text>
<text x="79.5" y="597.6" fill="#111" text-anchor="middle">模板</text>
<text class="mn" x="107.5" y="597.6" fill="#ff7a14" textLength="18" lengthAdjust="spacingAndGlyphs">VIP</text>
<text x="125.5" y="597.6" fill="#ff7a14">指标</text>
<text class="mn" x="165.5" y="597.6" fill="#111" textLength="12" lengthAdjust="spacingAndGlyphs">MA</text>
<text class="mn" x="194.0" y="597.6" fill="#111" textLength="24" lengthAdjust="spacingAndGlyphs">MACD</text>
<text class="mn" x="234.5" y="597.6" fill="#111" textLength="12" lengthAdjust="spacingAndGlyphs">PP</text>
<text class="mn" x="262.5" y="597.6" fill="#111" textLength="18" lengthAdjust="spacingAndGlyphs">PPS</text>
<text class="mn" x="296.5" y="597.6" fill="#111" textLength="24" lengthAdjust="spacingAndGlyphs">BIAS</text>
<text class="mn" x="336.5" y="597.6" fill="#111" textLength="18" lengthAdjust="spacingAndGlyphs">CCI</text>
<text class="mn" x="370.5" y="597.6" fill="#111" textLength="18" lengthAdjust="spacingAndGlyphs">KDJ</text>
<text class="mn" x="404.5" y="597.6" fill="#111" textLength="18" lengthAdjust="spacingAndGlyphs">RSI</text>
<text class="mn" x="438.0" y="597.6" fill="#111" textLength="12" lengthAdjust="spacingAndGlyphs">CR</text>
<text class="mn" x="466.0" y="597.6" fill="#111" textLength="18" lengthAdjust="spacingAndGlyphs">PSY</text>
<text class="mn" x="500.0" y="597.6" fill="#111" textLength="24" lengthAdjust="spacingAndGlyphs">BOLL</text>
<text class="mn" x="539.5" y="597.6" fill="#111" textLength="18" lengthAdjust="spacingAndGlyphs">VOL</text>
<text class="mn" x="574.0" y="597.6" fill="#111" textLength="84" lengthAdjust="spacingAndGlyphs">ICHIMOKU CLOUD</text>
<text x="686.5" y="597.6" fill="#111" text-anchor="middle">设置</text>
</g>
</svg></body></html>
